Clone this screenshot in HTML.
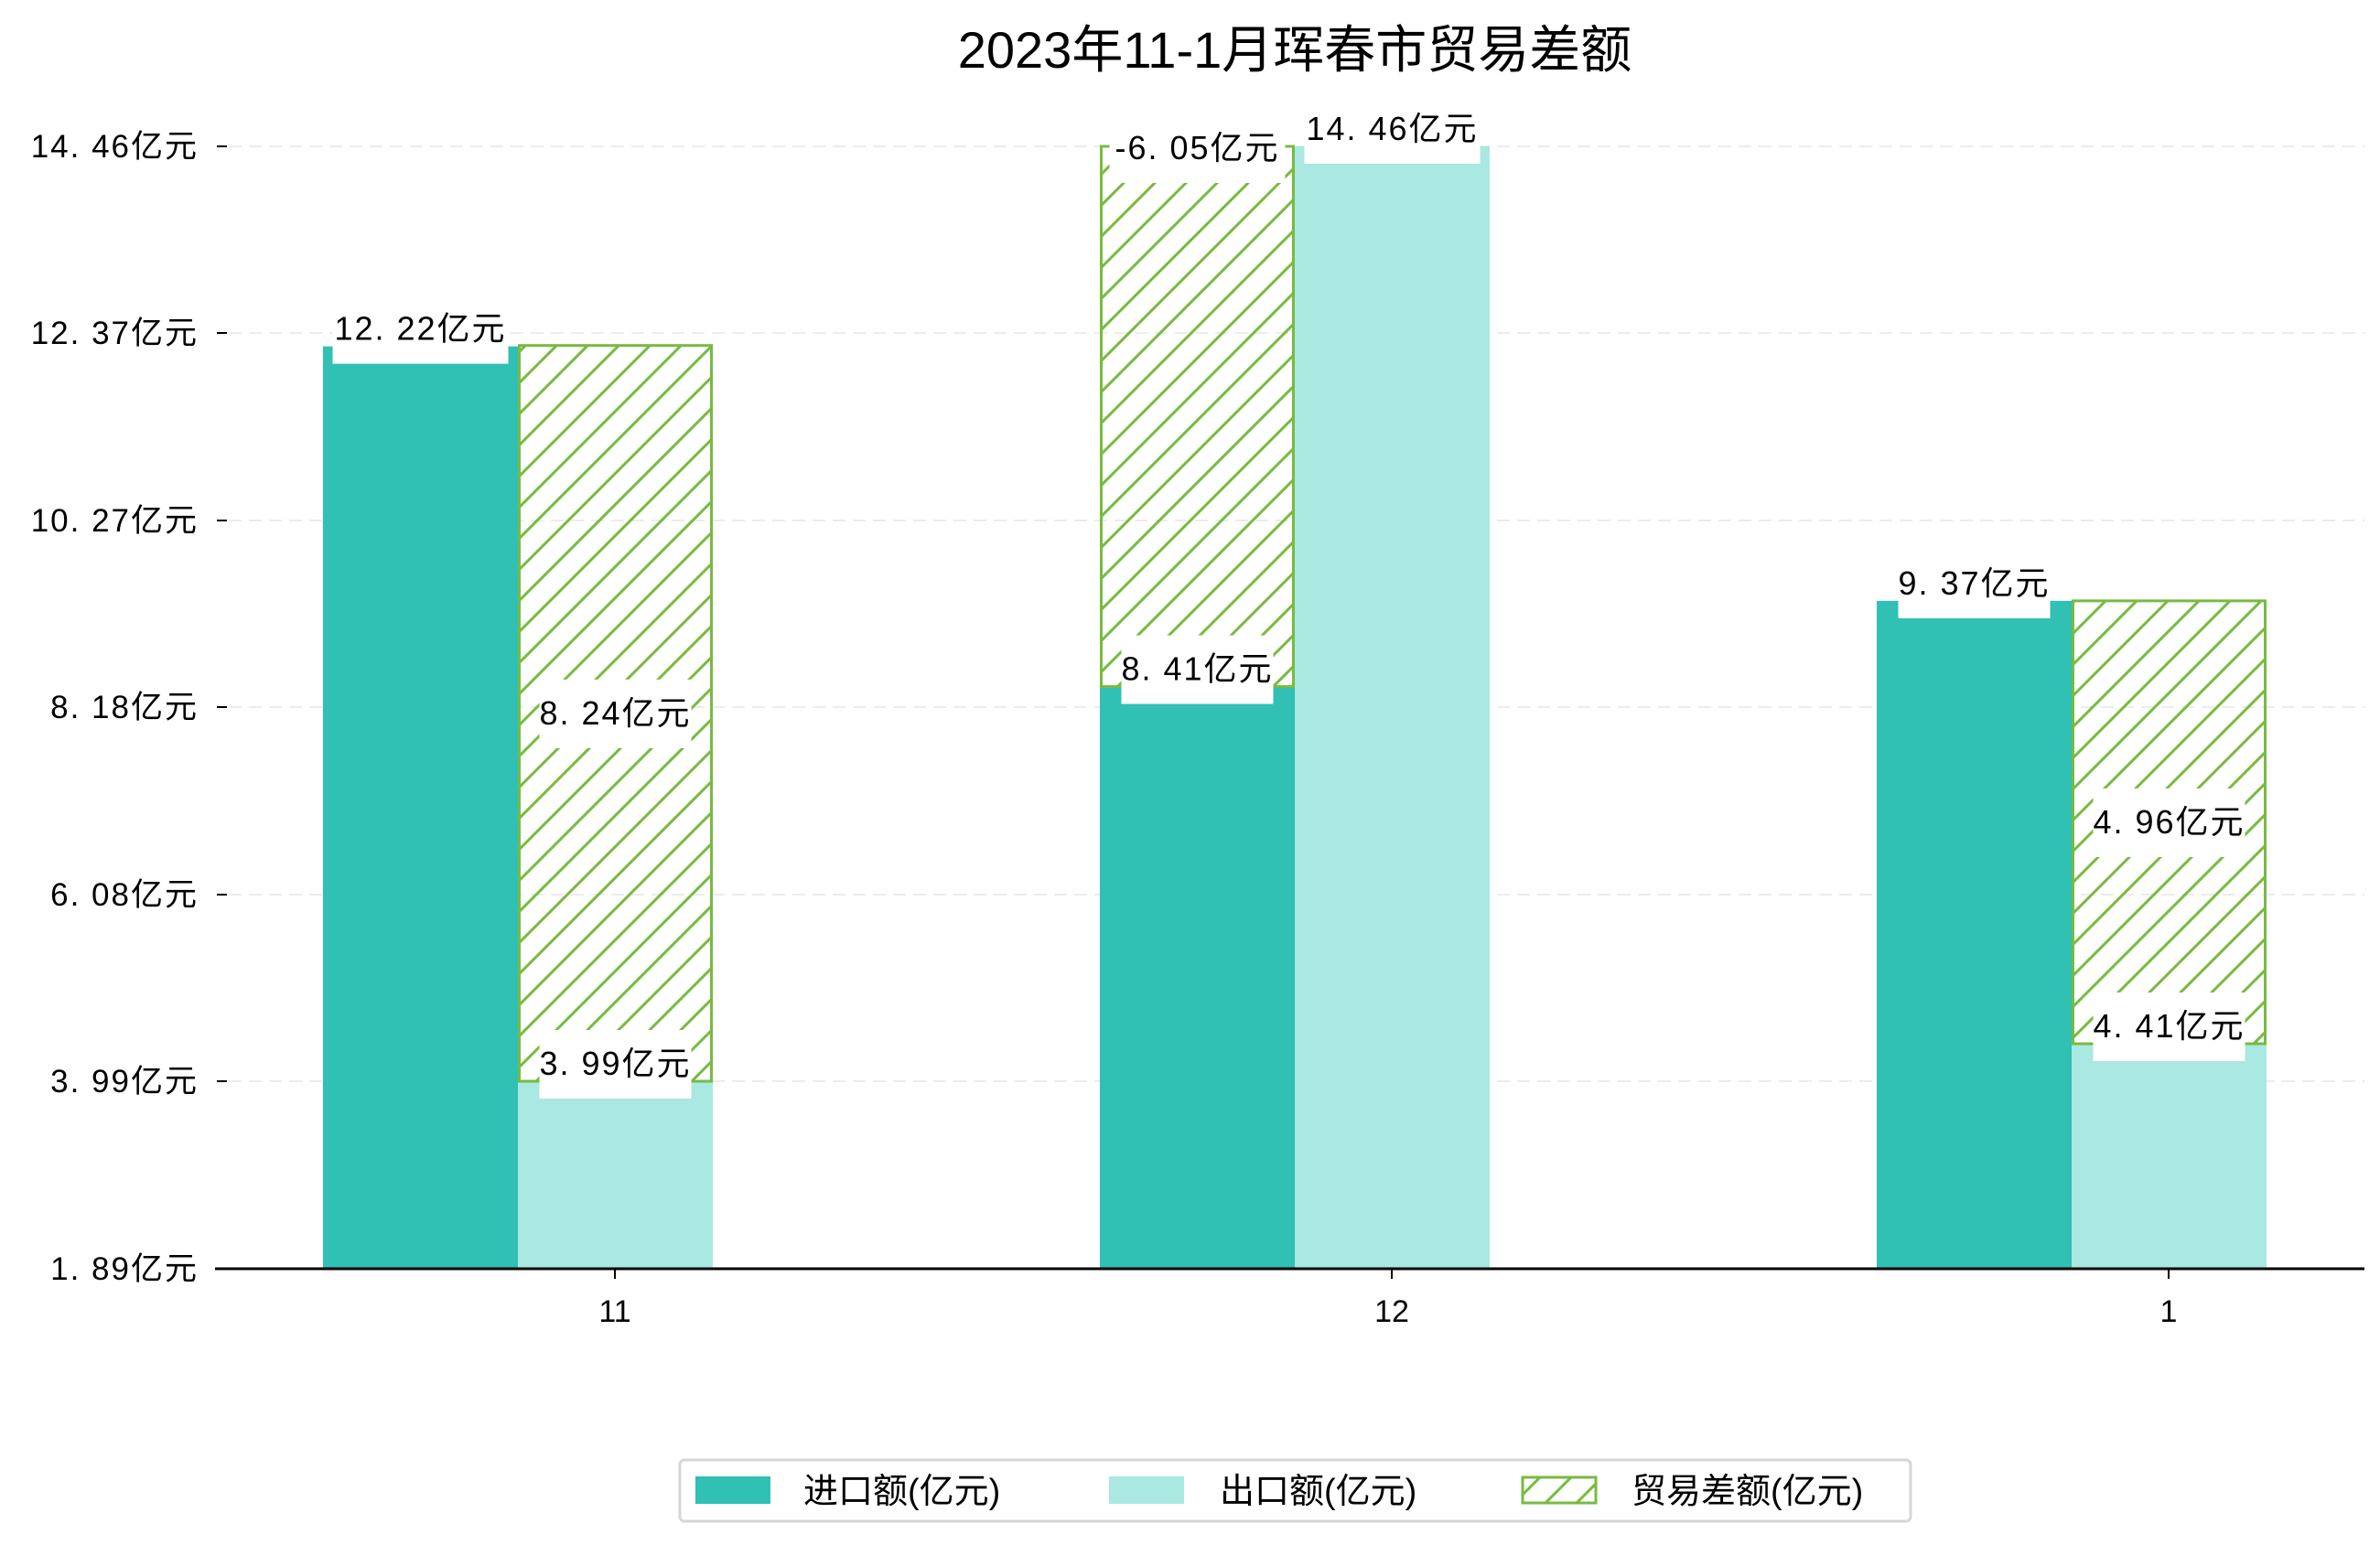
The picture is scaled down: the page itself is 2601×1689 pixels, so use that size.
<!DOCTYPE html>
<html><head><meta charset="utf-8">
<style>
html,body{margin:0;padding:0;background:#fff;}
svg{display:block;}
text{font-family:"Liberation Sans","Noto Sans CJK SC",sans-serif;fill:#000;}
</style></head>
<body>
<svg id="chart" width="2601" height="1689" viewBox="0 0 2601 1689" xmlns="http://www.w3.org/2000/svg">
<defs>
<pattern id="hatch" patternUnits="userSpaceOnUse" width="34" height="34">
<path d="M-2,36 L36,-2 M-19,19 L19,-19 M15,53 L53,15" stroke="#77bb41" stroke-width="3"/>
</pattern>
</defs>
<text x="1415" y="74" font-size="56" text-anchor="middle">2023年11-1月珲春市贸易差额</text>
<g id="grid"></g>
<g id="bars"></g>
<g id="labels"></g>
<g id="axes"></g>
<g>
<rect x="743" y="1596" width="1345" height="67" rx="5" fill="#fff" stroke="#d6d6d6" stroke-width="3"/>
<rect x="760" y="1614" width="82" height="30" fill="#30c0b4"/>
<text x="878" y="1643" font-size="38">进口额(亿元)</text>
<rect x="1212" y="1614" width="82" height="30" fill="#aae8e2"/>
<text x="1333" y="1643" font-size="38">出口额(亿元)</text>
<rect x="1664" y="1615" width="80" height="28" fill="url(#hatch)" stroke="#77bb41" stroke-width="3"/>
<text x="1783" y="1643" font-size="38">贸易差额(亿元)</text>
</g>
</svg>
<script>
const categories = ['11', '12', '1'];
const importValues = [12.22, 8.41, 9.37];
const exportValues = [3.99, 14.46, 4.41];
const balanceValues = [8.24, -6.05, 4.96];
const tickLabels = ['1.89', '3.99', '6.08', '8.18', '10.27', '12.37', '14.46'];

const NS = 'http://www.w3.org/2000/svg';
const yMin = 1.89, yMax = 14.46, yBottom = 1387, yTop = 160;
const xLeft = 235, xRight = 2584;
const groupStart = 672, groupStep = 849, barW = 213;
function y(v){ return yBottom - (v - yMin) / (yMax - yMin) * (yBottom - yTop); }
function xc(i){ return groupStart + i * groupStep; }
function mk(tag, attrs, parent){
  const e = document.createElementNS(NS, tag);
  for (const k in attrs) e.setAttribute(k, attrs[k]);
  parent.appendChild(e);
  return e;
}
const grid = document.getElementById('grid');
const bars = document.getElementById('bars');
const labels = document.getElementById('labels');
const axes = document.getElementById('axes');

tickLabels.forEach(function(t){
  const v = parseFloat(t);
  const yy = y(v);
  if (v > yMin) {
    const g = mk('line', {x1: 250, x2: xRight, y1: yy, y2: yy, stroke: '#ececec', 'stroke-width': 2, 'stroke-dasharray': '14,8'}, grid);
    
    
  }
  const tk = mk('line', {x1: 237, x2: 248, y1: yy, y2: yy, stroke: '#000', 'stroke-width': 2}, axes);
  
  
  const tx = mk('text', {x: 217, y: yy + 12, 'font-size': 35, 'text-anchor': 'end', 'letter-spacing': 2}, axes);
  tx.textContent = t.replace('.', '. ') + '亿元';
  
  
});
const base = mk('line', {x1: xLeft, x2: xRight, y1: yBottom, y2: yBottom, stroke: '#000', 'stroke-width': 3}, axes);



function addLabel(cx, cy, txt, name){
  const w = txt.length * 26 + 10;
  const r = mk('rect', {x: cx - w / 2, y: cy - 37, width: w, height: 75, fill: '#fff'}, labels);
  
  
  const t = mk('text', {x: cx, y: cy + 12, 'font-size': 36, 'text-anchor': 'middle', 'letter-spacing': 2}, labels);
  t.textContent = txt.replace('.', '. ');
  
  
}
function fmt(v){ return v.toFixed(2) + '亿元'; }

categories.forEach(function(c, i){
  const c0 = xc(i);
  const imp = importValues[i], exp = exportValues[i];
  const diff = balanceValues[i];
  const ix = c0 - 106 - barW, ex = c0 - 106;
  const r1 = mk('rect', {x: ix, y: y(imp), width: barW, height: yBottom - y(imp), fill: '#30c0b4'}, bars);
  
  
  const r2 = mk('rect', {x: ex, y: y(exp), width: barW, height: yBottom - y(exp), fill: '#aae8e2'}, bars);
  
  
  const lo = Math.min(imp, exp), hi = lo + Math.abs(diff);
  const hx = diff >= 0 ? ex : ix;
  const h = mk('rect', {x: hx + 1.5, y: y(hi), width: barW - 3, height: y(lo) - y(hi), fill: 'url(#hatch)', stroke: '#77bb41', 'stroke-width': 3}, bars);
  
  
  addLabel(ix + barW / 2, y(imp) - 19, fmt(imp), 'import-label-' + c);
  addLabel(ex + barW / 2, y(exp) - 19, fmt(exp), 'export-label-' + c);
  const dy = diff >= 0 ? (y(lo) + y(hi)) / 2 : y(hi) + 2;
  addLabel(hx + barW / 2, dy, fmt(diff), 'balance-label-' + c);
  const tk = mk('line', {x1: c0, x2: c0, y1: yBottom, y2: yBottom + 11, stroke: '#000', 'stroke-width': 2}, axes);
  
  
  const tl = mk('text', {x: c0, y: 1445, 'font-size': 34, 'text-anchor': 'middle'}, axes);
  tl.textContent = c;
  
  
});
</script>
</body></html>
